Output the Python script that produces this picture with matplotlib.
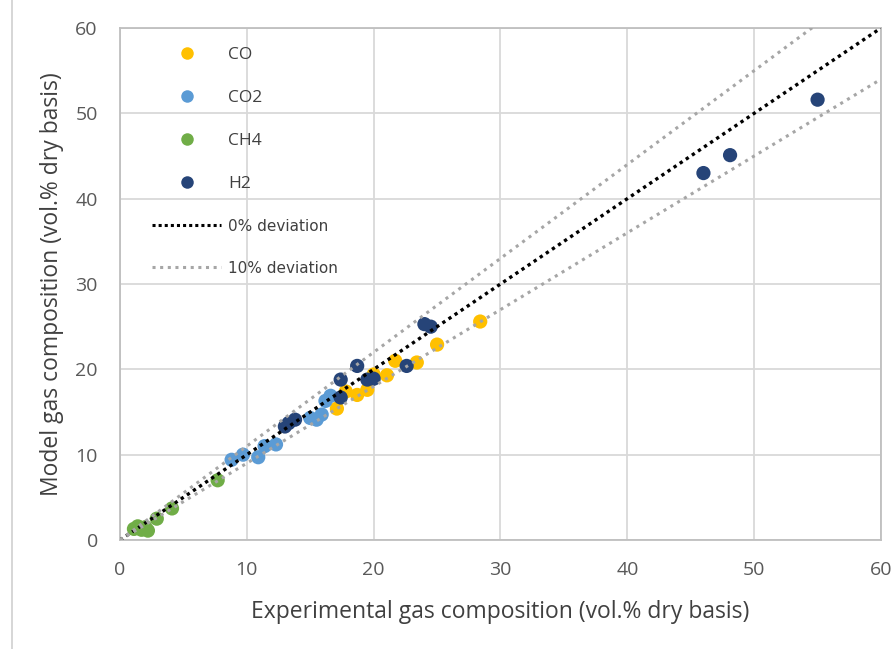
import numpy as np
import matplotlib
matplotlib.use("Agg")
import matplotlib.pyplot as plt
from matplotlib.lines import Line2D

# gas composition data (vol.% dry basis): experimental vs model
co_exp = [17.1, 17.8, 18.7, 19.5, 20.0, 21.05, 21.7, 23.4, 25.0, 28.4]
co_mod = [15.4, 17.4, 17.0, 17.6, 19.4, 19.3, 21.0, 20.8, 22.9, 25.6]

co2_exp = [8.8, 9.7, 10.9, 11.4, 12.3, 15.0, 15.5, 15.9, 16.2, 16.6]
co2_mod = [9.4, 10.0, 9.7, 11.0, 11.2, 14.3, 14.1, 14.7, 16.3, 16.9]

ch4_exp = [1.1, 1.4, 1.7, 2.0, 2.2, 2.9, 4.1, 7.7]
ch4_mod = [1.3, 1.6, 1.2, 1.5, 1.1, 2.5, 3.7, 7.0]

h2_exp = [13.0, 13.3, 13.8, 17.4, 17.4, 18.7, 19.5, 20.0, 22.6, 24.0, 24.5, 46.0, 48.1, 55.0]
h2_mod = [13.3, 13.7, 14.1, 16.7, 18.8, 20.4, 18.8, 18.9, 20.4, 25.3, 25.0, 43.0, 45.1, 51.6]

series = [
    ("CO", co_exp, co_mod, "#FFC000"),
    ("CO2", co2_exp, co2_mod, "#5B9BD5"),
    ("CH4", ch4_exp, ch4_mod, "#70AD47"),
    ("H2", h2_exp, h2_mod, "#264478"),
]

ticks = [0, 10, 20, 30, 40, 50, 60]
deviation = 0.10

plt.rcParams['font.family'] = ['Open Sans', 'DejaVu Sans']

fig = plt.figure(figsize=(8.95, 6.49), dpi=100)
ax = fig.add_axes([120 / 895, 1 - 540 / 649, 761 / 895, 512 / 649])

# points first, reference lines drawn over them
for name, xs, ys, col in series:
    ax.scatter(xs, ys, s=105, color=col, edgecolors='none', zorder=3)

ref = np.array([0, 60])
ax.plot(ref, ref, color='black', lw=2.4, ls=(0, (1, 1.2)), zorder=4)
ax.plot(ref, ref * (1 + deviation), color='#a6a6a6', lw=2.2, ls=(0, (1, 1.6)), zorder=4)
ax.plot(ref, ref * (1 - deviation), color='#a6a6a6', lw=2.2, ls=(0, (1, 1.6)), zorder=4)

ax.set_xlim(0, 60)
ax.set_ylim(0, 60)
ax.set_xticks(ticks)
ax.set_yticks(ticks)
ax.grid(True, color='#d9d9d9', lw=1.3, zorder=0)
ax.set_axisbelow(True)
for sp in ax.spines.values():
    sp.set_color('#bfbfbf')
    sp.set_linewidth(1.3)
ax.tick_params(length=0, labelsize=14, colors='#595959')
ax.tick_params(axis='x', pad=15)
ax.tick_params(axis='y', pad=16)
ax.set_xlabel("Experimental gas composition (vol.% dry basis)", fontsize=16.5,
              color='#404040', labelpad=15)
ax.set_ylabel("Model gas composition (vol.% dry basis)", fontsize=16.5,
              color='#404040', labelpad=8)

handles = [Line2D([], [], ls='none', marker='o', ms=9, color=c, mec='none')
           for _, _, _, c in series]
handles += [Line2D([], [], color='black', lw=2.2, ls=(0, (1, 1))),
            Line2D([], [], color='#a6a6a6', lw=2.2, ls=(0, (1, 1.5)))]
labels = [s[0] for s in series] + ["0% deviation", "10% deviation"]
leg = ax.legend(handles, labels, loc='upper left', frameon=False,
                bbox_to_anchor=(152 / 895, 1 - 47 / 649), bbox_transform=fig.transFigure,
                borderpad=0, borderaxespad=0, handlelength=4.0, handletextpad=0.4,
                labelspacing=1.55, fontsize=12.5)
for i, t in enumerate(leg.get_texts()):
    t.set_color('#404040')
    if i >= 4:
        t.set_fontsize(11)
        t.set_family('DejaVu Sans')

# outer frame line on the left of the picture
fig.add_artist(Line2D([12 / 895, 12 / 895], [0, 1], color='#d0d0d0', lw=1.2,
                      transform=fig.transFigure))

fig.savefig("out.png", dpi=100)
